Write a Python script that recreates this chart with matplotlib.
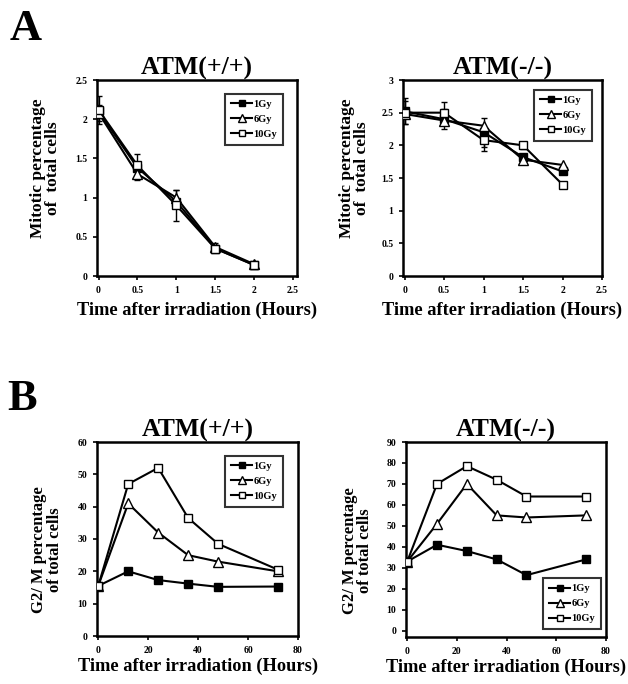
import matplotlib
matplotlib.use("Agg")
import matplotlib.pyplot as plt
import numpy as np

plt.rcParams['font.family'] = ['Liberation Serif', 'DejaVu Serif']
plt.rcParams['font.weight'] = 'bold'

doses = ["1Gy", "6Gy", "10Gy"]

# Panel A: mitotic percentage
a_time = [0, 0.5, 1, 1.5, 2]
a_wt_1 = [2.10, 1.38, 0.95, 0.35, 0.14]
a_wt_6 = [2.08, 1.30, 1.00, 0.37, 0.15]
a_wt_10 = [2.12, 1.41, 0.90, 0.35, 0.14]
a_wt_err_6 = [0.10, 0.08, 0.10, 0.05, 0.02]
a_wt_err_10 = [0.18, 0.15, 0.20, 0.05, 0.02]

a_ko_1 = [2.52, 2.40, 2.20, 1.82, 1.60]
a_ko_6 = [2.48, 2.38, 2.30, 1.78, 1.70]
a_ko_10 = [2.50, 2.50, 2.08, 2.00, 1.40]
a_ko_err_1 = [0.20, 0.15, 0.22, 0.05, 0.04]
a_ko_err_10 = [0.18, 0.16, 0.16, 0.05, 0.04]

# Panel B: G2/M percentage
b_time = [0, 12, 24, 36, 48, 72]
b_wt_1 = [15.5, 20.0, 17.3, 16.2, 15.2, 15.3]
b_wt_6 = [15.5, 41.0, 32.0, 25.0, 23.0, 20.0]
b_wt_10 = [15.5, 47.0, 52.0, 36.5, 28.5, 20.5]

b_ko_1 = [33.0, 41.0, 38.0, 34.0, 26.5, 34.0]
b_ko_6 = [33.0, 51.0, 70.0, 55.0, 54.0, 55.0]
b_ko_10 = [33.0, 70.0, 78.5, 72.0, 64.0, 64.0]

W, H = 628, 684
fig = plt.figure(figsize=(W / 100, H / 100), dpi=100)


def add_ax(l, r, t, b):
    return fig.add_axes([l / W, (H - b) / H, (r - l) / W, (b - t) / H])


styles = [
    dict(marker='s', mfc='black', mec='black', ms=6.2),
    dict(marker='^', mfc='white', mec='black', ms=6.8),
    dict(marker='s', mfc='white', mec='black', ms=6.2),
]


def draw(ax, x, series, errs, title, ylabel, xlim, ylim, xticks, yticks,
         legloc, leganchor, ylab_xy, ylab_fs, xlab_pad):
    for i, (y, lab) in enumerate(zip(series, doses)):
        e = errs[i]
        if e is not None:
            ax.errorbar(x, y, yerr=e, fmt='none', ecolor='black', elinewidth=1.0,
                        capsize=2.5, capthick=1.0, zorder=1)
        ax.plot(x, y, color='black', lw=1.5, mew=1.0, label=lab, zorder=2 + i,
                **styles[i])
    ax.set_xlim(*xlim)
    ax.set_ylim(*ylim)
    ax.set_xticks(xticks)
    ax.set_yticks(yticks)
    ax.set_xticklabels([f"{t:g}" for t in xticks], fontsize=7, fontweight='bold')
    ax.set_yticklabels([f"{t:g}" for t in yticks], fontsize=7, fontweight='bold')
    ax.tick_params(direction='out', length=3, width=1.2, pad=4)
    for s in ax.spines.values():
        s.set_linewidth(1.8)
    ax.set_title(title, fontsize=18.5, fontweight='bold', pad=4)
    ax.set_ylabel(ylabel, fontsize=ylab_fs, fontweight='bold', linespacing=0.95)
    ax.yaxis.set_label_coords(*ylab_xy)
    ax.set_xlabel("Time after irradiation (Hours)", fontsize=13.2, fontweight='bold',
                  labelpad=xlab_pad)
    leg = ax.legend(loc=legloc, bbox_to_anchor=leganchor, borderaxespad=0,
                    fontsize=7.5, frameon=True, fancybox=False,
                    handlelength=2.0, handletextpad=0.15, borderpad=0.55,
                    labelspacing=0.55, markerscale=0.75)
    leg.get_frame().set_edgecolor('black')
    leg.get_frame().set_linewidth(1.5)
    for t in leg.get_texts():
        t.set_fontweight('bold')


ax1 = add_ax(97, 297, 80, 276)
draw(ax1, a_time, [a_wt_1, a_wt_6, a_wt_10], [None, a_wt_err_6, a_wt_err_10],
     "ATM(+/+)", "Mitotic percentage\nof  total cells", (-0.02, 2.55), (0, 2.5),
     [0, 0.5, 1, 1.5, 2, 2.5], [0, 0.5, 1, 1.5, 2, 2.5],
     'upper right', (1 - 14 / 200, 1 - 14 / 196), (-0.18, 0.55), 12.5, 5)

ax2 = add_ax(403, 602, 80, 276)
draw(ax2, a_time, [a_ko_1, a_ko_6, a_ko_10], [a_ko_err_1, None, a_ko_err_10],
     "ATM(-/-)", "Mitotic percentage\nof  total cells", (-0.02, 2.5), (0, 3),
     [0, 0.5, 1, 1.5, 2, 2.5], [0, 0.5, 1, 1.5, 2, 2.5, 3],
     'upper right', (1 - 10 / 199, 1 - 10 / 196), (-0.166, 0.55), 12.5, 5)

ax3 = add_ax(97, 298, 442, 636)
draw(ax3, b_time, [b_wt_1, b_wt_6, b_wt_10], [None, None, None],
     "ATM(+/+)", "G2/ M percentage\nof total cells", (-0.5, 80), (0, 60),
     [0, 20, 40, 60, 80], [0, 10, 20, 30, 40, 50, 60],
     'upper right', (1 - 15 / 201, 1 - 14 / 194), (-0.17, 0.445), 12, 2)

ax4 = add_ax(406, 606, 442, 637)
draw(ax4, b_time, [b_ko_1, b_ko_6, b_ko_10], [None, None, None],
     "ATM(-/-)", "G2/ M percentage\nof total cells", (-0.5, 80), (-3, 90),
     [0, 20, 40, 60, 80], [0, 10, 20, 30, 40, 50, 60, 70, 80, 90],
     'lower right', (1 - 5 / 200, 8 / 195), (-0.165, 0.445), 12, 2)

fig.text(10 / W, 1 - 40 / H, "A", fontsize=32, fontweight='bold')
fig.text(7 / W, 1 - 410 / H, "B", fontsize=32, fontweight='bold')

fig.savefig("out.png", dpi=100, facecolor='white')
